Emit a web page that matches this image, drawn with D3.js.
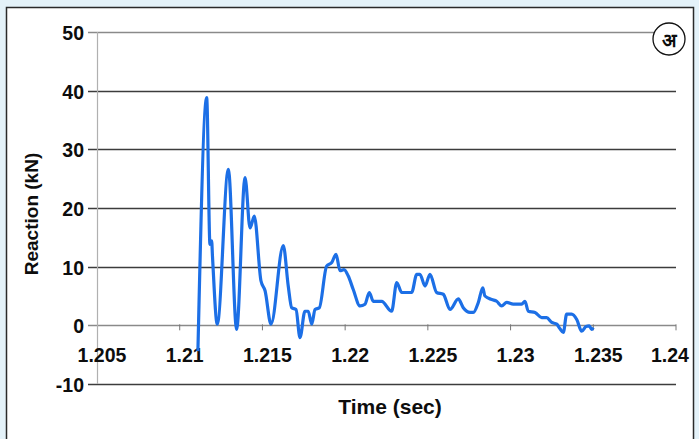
<!DOCTYPE html>
<html>
<head>
<meta charset="utf-8">
<script src="https://cdn.jsdelivr.net/npm/d3@7"></script>
<style>
  body { margin: 0; background: #e4f2f9; }
  svg { display: block; }
  text { font-family: 'Liberation Sans', Arial, sans-serif; font-weight: bold; fill: #0d0d0d; }
</style>
</head>
<body>
<div id="chart"></div>
<script>
// Data
const time = [1.2111, 1.21163, 1.21183, 1.21193, 1.21198, 1.21227, 1.21294, 1.21344, 1.21395, 1.21425,
  1.21451, 1.21491, 1.21516, 1.21552, 1.21626, 1.21656, 1.21677, 1.21703, 1.21727, 1.21757,
  1.21777, 1.21798, 1.21818, 1.21844, 1.21888, 1.21919, 1.21945, 1.21969, 1.21993, 1.22019,
  1.22049, 1.2209, 1.2212, 1.22146, 1.2217, 1.22221, 1.22281, 1.22312, 1.22342, 1.22402,
  1.22433, 1.22452, 1.22483, 1.22513, 1.22553, 1.22593, 1.22634, 1.22684, 1.22714, 1.22755,
  1.22775, 1.22805, 1.22832, 1.22845, 1.22886, 1.22916, 1.22946, 1.22977, 1.23016, 1.23067,
  1.23087, 1.23107, 1.23148, 1.23188, 1.23218, 1.23249, 1.23279, 1.23299, 1.23319, 1.23339,
  1.23369, 1.234, 1.2343, 1.23456, 1.23476, 1.2349, 1.235];
const reaction = [-4.4, 38.8, 13.8, 14.4, 11.8, 0.2, 26.6, -0.7, 25.2, 16.6,
  18.6, 7.6, 5.9, 0.2, 13.6, 6.7, 3.0, 2.7, -2.1, 2.4,
  2.4, 0.2, 2.7, 3.0, 10.1, 10.7, 12.1, 9.3, 9.5, 8.4,
  6.1, 3.3, 3.6, 5.6, 4.1, 4.1, 2.4, 7.3, 5.6, 5.6,
  8.7, 8.7, 6.7, 8.7, 5.6, 5.3, 2.7, 4.5, 3.0, 2.2,
  2.2, 3.9, 6.4, 5.0, 4.4, 4.1, 3.3, 3.9, 3.6, 3.6,
  4.1, 2.4, 2.2, 1.3, 1.3, 0.5, 0.2, -0.6, -1.2, 1.9,
  1.9, 1.0, -1.0, -0.2, -0.1, -0.7, -0.4];

const yTicks = [-10, 0, 10, 20, 30, 40, 50];
const xTicks = [1.205, 1.21, 1.215, 1.22, 1.225, 1.23, 1.235, 1.24];
const xTickLabels = ['1.205', '1.21', '1.215', '1.22', '1.225', '1.23', '1.235', '1.24'];
const badge = 'अ';

const width = 699;
const height = 439;

const svg = d3.select('#chart')
  .append('svg')
  .attr('width', width)
  .attr('height', height);

// white panel with dark border
svg.append('rect')
  .attr('x', 6.5)
  .attr('y', 7.5)
  .attr('width', 687)
  .attr('height', 440)
  .attr('fill', '#fff')
  .attr('stroke', '#2a2a2a')
  .attr('stroke-width', 1.5);

const xScale = d3.scaleLinear([1.205, 1.24], [97, 676]);
const yScale = d3.scaleLinear([-10, 50], [384, 32]);

// horizontal grid lines (each one starts with its own tick mark)
svg.append('g')
  .selectAll('line')
  .data(yTicks)
  .join('line')
  .attr('x1', 88)
  .attr('x2', 676)
  .attr('y1', (d) => Math.round(yScale(d)) + 0.5)
  .attr('y2', (d) => Math.round(yScale(d)) + 0.5)
  .attr('stroke', (d) => (d === 50 || d === 0 ? '#8a8a8a' : '#3c3c3c'))
  .attr('stroke-width', 1.6);

// y axis line
svg.append('line')
  .attr('x1', 97.5)
  .attr('x2', 97.5)
  .attr('y1', yScale(50))
  .attr('y2', yScale(-10))
  .attr('stroke', '#b0b0b0')
  .attr('stroke-width', 1.2);

// small ticks on the zero line
svg.append('g')
  .selectAll('line')
  .data(xTicks.slice(1))
  .join('line')
  .attr('x1', (d) => xScale(d))
  .attr('x2', (d) => xScale(d))
  .attr('y1', yScale(0) - 1)
  .attr('y2', yScale(0) + 5)
  .attr('stroke', '#777')
  .attr('stroke-width', 1);

// y tick labels
svg.append('g')
  .selectAll('text')
  .data(yTicks)
  .join('text')
  .attr('x', 84)
  .attr('y', (d) => yScale(d) + 1)
  .attr('text-anchor', 'end')
  .attr('dominant-baseline', 'central')
  .style('font-size', '19.5px')
  .text((d) => d);

// x tick labels, sitting under the zero line
svg.append('g')
  .selectAll('text')
  .data(xTicks)
  .join('text')
  .attr('x', (d, i) => xScale(d) + (i === xTicks.length - 1 ? -6 : 5))
  .attr('y', 362)
  .attr('text-anchor', 'middle')
  .style('font-size', '19.5px')
  .text((d, i) => xTickLabels[i]);

// the reaction trace
const line = d3.line()
  .x((d, i) => xScale(time[i]))
  .y((d) => yScale(d))
  .curve(d3.curveMonotoneX);

svg.append('path')
  .datum(reaction)
  .attr('d', line)
  .attr('fill', 'none')
  .attr('stroke', '#1c6fe6')
  .attr('stroke-width', 3.2)
  .attr('stroke-linejoin', 'round');

// axis names
svg.append('text')
  .attr('text-anchor', 'middle')
  .attr('transform', 'translate(38, 214)rotate(-90)')
  .style('font-size', '19px')
  .text('Reaction (kN)');

svg.append('text')
  .attr('x', 390)
  .attr('y', 414)
  .attr('text-anchor', 'middle')
  .style('font-size', '21px')
  .text('Time (sec)');

// circled badge, top right
svg.append('circle')
  .attr('cx', 669)
  .attr('cy', 39)
  .attr('r', 16)
  .attr('fill', '#fff')
  .attr('stroke', '#111')
  .attr('stroke-width', 1.3);

svg.append('text')
  .attr('x', 669)
  .attr('y', 40)
  .attr('text-anchor', 'middle')
  .attr('dominant-baseline', 'central')
  .style('font-size', '19px')
  .text(badge);
</script>
</body>
</html>
